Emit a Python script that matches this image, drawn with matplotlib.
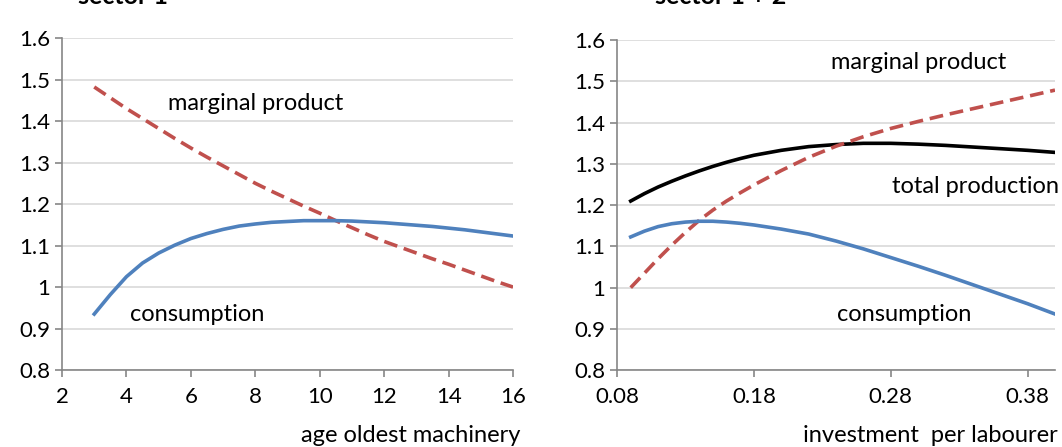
import numpy as np
import matplotlib.pyplot as plt

plt.rcParams['font.family'] = ['Lato', 'DejaVu Sans']

# left panel: age of oldest machinery
age = [3, 3.5, 4, 4.5, 5, 5.5, 6, 6.5, 7, 7.5, 8, 8.5, 9, 9.5, 10,
       10.5, 11, 11.5, 12, 12.5, 13, 13.5, 14, 14.5, 15, 15.5, 16]
cons_age = [0.935, 0.982, 1.025, 1.058, 1.082, 1.101, 1.117, 1.129, 1.139, 1.147, 1.152, 1.156, 1.158, 1.16, 1.16,
            1.16, 1.159, 1.157, 1.155, 1.152, 1.149, 1.146, 1.142, 1.138, 1.133, 1.128, 1.123]
mp_age = [1.482, 1.456, 1.43, 1.406, 1.382, 1.358, 1.335, 1.313, 1.292, 1.271, 1.25, 1.231, 1.213, 1.195, 1.178,
          1.16, 1.143, 1.126, 1.11, 1.096, 1.082, 1.068, 1.055, 1.041, 1.027, 1.013, 1.0]

# right panel: investment per labourer
inv = [0.09, 0.10, 0.11, 0.12, 0.13, 0.14, 0.15, 0.16, 0.17, 0.18, 0.20, 0.22,
       0.24, 0.26, 0.28, 0.30, 0.32, 0.34, 0.36, 0.38, 0.40]
total_inv = [1.21, 1.228, 1.244, 1.258, 1.271, 1.283, 1.294, 1.304, 1.313, 1.321, 1.333, 1.342,
             1.347, 1.35, 1.35, 1.348, 1.345, 1.341, 1.337, 1.333, 1.328]
mp_inv = [1.0, 1.035, 1.07, 1.103, 1.134, 1.163, 1.188, 1.21, 1.23, 1.249, 1.284, 1.316,
          1.343, 1.366, 1.386, 1.403, 1.419, 1.434, 1.449, 1.464, 1.479]
cons_inv = [1.123, 1.137, 1.148, 1.155, 1.159, 1.161, 1.161, 1.159, 1.156, 1.152, 1.142, 1.13,
            1.113, 1.094, 1.073, 1.052, 1.03, 1.007, 0.984, 0.961, 0.936]

blue = '#4F81BD'
red = '#C0504D'
lw = 2.6
dash = (0, (3.8, 1.9))

fig = plt.figure(figsize=(10.62, 4.47), dpi=100)
ax1 = fig.add_axes([0.0584, 0.172, 0.4247, 0.743])
ax2 = fig.add_axes([0.581, 0.172, 0.4124, 0.738])

def style(ax):
    ax.set_ylim(0.8, 1.6)
    ax.set_yticks(np.arange(0.8, 1.61, 0.1))
    ax.set_yticklabels(['0.8', '0.9', '1', '1.1', '1.2', '1.3', '1.4', '1.5', '1.6'])
    ax.grid(axis='y', color='#D9D9D9', linewidth=1.2)
    ax.set_axisbelow(True)
    for s in ['top', 'right']:
        ax.spines[s].set_visible(False)
    for s in ['left', 'bottom']:
        ax.spines[s].set_color('#868686')
        ax.spines[s].set_linewidth(1.2)
    ax.tick_params(colors='#868686', labelcolor='black', labelsize=16, length=5, width=1.2)
    ax.tick_params(axis='x', pad=7)

ax1.plot(age, mp_age, color=red, linestyle=dash, linewidth=lw)
ax1.plot(age, cons_age, color=blue, linewidth=lw)
style(ax1)
ax1.set_xlim(2, 16)
ax1.set_xticks(range(2, 17, 2))
ax1.text(8.0, 1.443, 'marginal product', fontsize=17, ha='center', va='center')
ax1.text(6.2, 0.933, 'consumption', fontsize=17, ha='center', va='center')

ax2.plot(inv, total_inv, color='black', linewidth=lw)
ax2.plot(inv, mp_inv, color=red, linestyle=dash, linewidth=lw)
ax2.plot(inv, cons_inv, color=blue, linewidth=lw)
style(ax2)
ax2.set_xlim(0.08, 0.40)
ax2.set_xticks([0.08, 0.18, 0.28, 0.38])
ax2.set_xticklabels(['0.08', '0.18', '0.28', '0.38'])
ax2.text(0.30, 1.545, 'marginal product', fontsize=17, ha='center', va='center')
ax2.text(0.342, 1.245, 'total production', fontsize=17, ha='center', va='center')
ax2.text(0.290, 0.935, 'consumption', fontsize=17, ha='center', va='center')

fig.text(520 / 1062, 1 - 436 / 447, 'age oldest machinery', fontsize=17, ha='right', va='center')
fig.text(1058 / 1062, 1 - 436 / 447, 'investment  per labourer', fontsize=17, ha='right', va='center')

# titles cut off at the top of the picture
fig.text(78 / 1062, 1 - 4 / 447, 'sector 1', fontsize=18, fontweight='bold', ha='left', va='baseline')
fig.text(655 / 1062, 1 - 4 / 447, 'sector 1 + 2', fontsize=18, fontweight='bold', ha='left', va='baseline')

fig.savefig('out.png', dpi=100)
